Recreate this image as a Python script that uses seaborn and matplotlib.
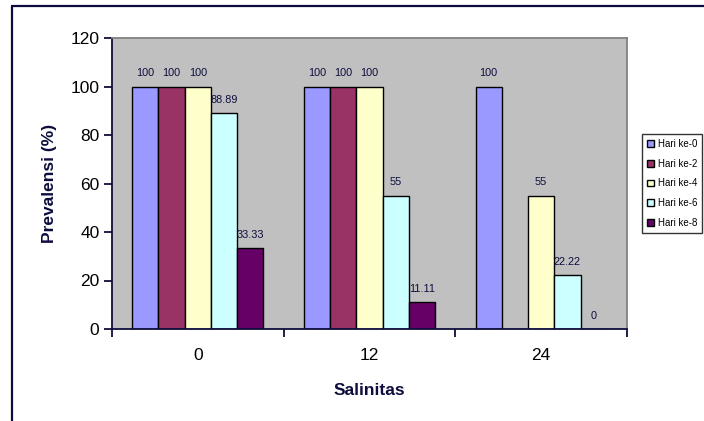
import numpy as np
import pandas as pd
import matplotlib
matplotlib.use("Agg")
import matplotlib.pyplot as plt
from matplotlib.lines import Line2D
from matplotlib.ticker import FixedLocator, NullFormatter
import seaborn as sns

# Data
salinitas = ["0", "12", "24"]
hari = ["Hari ke-0", "Hari ke-2", "Hari ke-4", "Hari ke-6", "Hari ke-8"]
hari_0 = [100, 100, 100]
hari_2 = [100, 100, np.nan]
hari_4 = [100, 100, 55]
hari_6 = [88.89, 55, 22.22]
hari_8 = [33.33, 11.11, 0]

colors = ["#9999FF", "#993366", "#FFFFCC", "#CCFFFF", "#660066"]
navy = "#0d0d3d"

series = [hari_0, hari_2, hari_4, hari_6, hari_8]
rows = []
for name, vals in zip(hari, series):
    for s, v in zip(salinitas, vals):
        rows.append({"Salinitas": s, "Hari": name, "Prevalensi": v})
df = pd.DataFrame(rows)

sns.set_theme(style="white")
plt.rcParams["font.family"] = ["Liberation Sans", "DejaVu Sans"]

fig = plt.figure(figsize=(7.04, 4.21), dpi=100)
ax = fig.add_axes([112 / 704, 1 - 329 / 421, (627 - 112) / 704, (329 - 38) / 421])
ax.set_facecolor("#C0C0C0")

sns.barplot(data=df, x="Salinitas", y="Prevalensi", hue="Hari",
            order=salinitas, hue_order=hari, palette=colors,
            width=0.764, edgecolor="black", linewidth=1.0,
            saturation=1, errorbar=None, ax=ax, legend=True)

# Value labels above each bar
n = len(hari)
bw = 0.764 / n
for j, (name, vals) in enumerate(zip(hari, series)):
    for i, v in enumerate(vals):
        if np.isnan(v):
            continue
        xpos = i - 0.764 / 2 + bw * (j + 0.5)
        ax.annotate(f"{v:g}", (xpos, v), xytext=(0, 6), textcoords="offset points",
                    ha="center", va="bottom", fontsize=7.8, color=navy)

ax.set_xlim(-0.5, 2.5)
ax.set_ylim(0, 120)
ax.set_yticks(np.arange(0, 121, 20))
ax.tick_params(axis="y", direction="out", length=6, width=1.3, color=navy,
               labelsize=12.5, labelcolor="#000000", pad=3, left=True)

# Category boundaries as x ticks, labels centred between them
ax.xaxis.set_major_locator(FixedLocator([-0.5, 0.5, 1.5, 2.5]))
ax.xaxis.set_major_formatter(NullFormatter())
ax.xaxis.set_minor_locator(FixedLocator([0, 1, 2]))
ax.set_xticklabels(salinitas, minor=True)
ax.tick_params(axis="x", which="major", direction="out", length=6, width=1.3,
               color=navy, bottom=True)
ax.tick_params(axis="x", which="minor", length=0, labelsize=12.5,
               labelcolor="#000000", pad=14)

ax.set_xlabel("Salinitas", fontsize=12.5, fontweight="bold", color=navy, labelpad=14)
ax.set_ylabel("Prevalensi (%)", fontsize=12.5, fontweight="bold", color=navy, labelpad=10)

for side in ["left", "bottom"]:
    ax.spines[side].set_color(navy)
    ax.spines[side].set_linewidth(1.3)
for side in ["top", "right"]:
    ax.spines[side].set_color("#808080")
    ax.spines[side].set_linewidth(1.3)
ax.grid(False)

leg = ax.legend(loc="upper left", bbox_to_anchor=(642 / 704, 1 - 134 / 421),
                bbox_transform=fig.transFigure, fontsize=7, frameon=True,
                handlelength=0.7, handleheight=0.7, handletextpad=0.4,
                labelspacing=1.0, borderpad=0.5, borderaxespad=0)
leg.get_frame().set_edgecolor("#000000")
leg.get_frame().set_linewidth(1.0)
leg.get_frame().set_boxstyle("square", pad=0)
for t in leg.get_texts():
    t.set_color("#000000")

# Chart-area border (left and top edges)
fig.add_artist(Line2D([12 / 704, 12 / 704], [0, 1 - 6 / 421], color=navy,
                      linewidth=1.6, transform=fig.transFigure))
fig.add_artist(Line2D([12 / 704, 1], [1 - 6 / 421, 1 - 6 / 421], color=navy,
                      linewidth=1.6, transform=fig.transFigure))

fig.savefig("out.png", dpi=100, facecolor="white")
